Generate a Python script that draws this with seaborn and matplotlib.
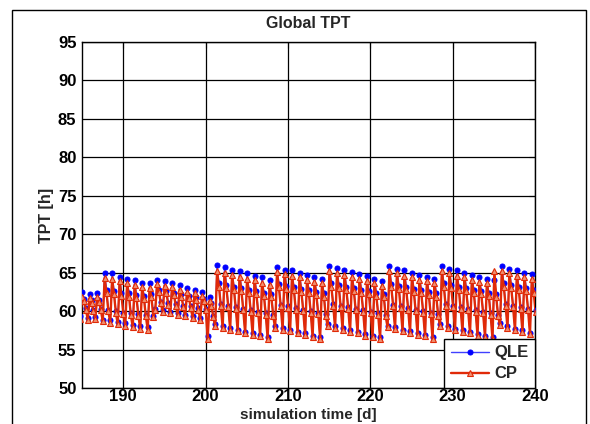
import numpy as np
import pandas as pd
import matplotlib
matplotlib.use("Agg")
import matplotlib.pyplot as plt
import seaborn as sns
from matplotlib.patches import Rectangle

# ---- data, one value per ~0.91-day cycle ----
qle_peak = [62.5, 62.2, 62.3,
            65.0, 64.9, 64.5, 64.2, 64.0, 63.7, 63.6,
            64.1, 63.9, 63.7, 63.4, 63.0, 62.8, 62.5,
            61.8,
            66.0, 65.8, 65.3, 65.2, 64.9, 64.6, 64.4, 64.0,
            65.8, 65.4, 65.3, 65.0, 64.7, 64.4, 64.2,
            65.9, 65.6, 65.3, 65.1, 64.8, 64.6, 64.2, 63.9,
            65.9, 65.5, 65.3, 65.0, 64.7, 64.5, 64.2,
            65.9, 65.5, 65.3, 65.0, 64.7, 64.4, 64.2, 64.0,
            65.9, 65.5, 65.3, 65.0, 64.8]
qle_trough = [59.3, 59.1, 59.2,
              58.9, 58.8, 58.6, 58.4, 58.2, 58.0, 57.9,
              60.3, 60.1, 59.9, 59.7, 59.5, 59.3, 59.1,
              56.7,
              58.3, 58.0, 57.8, 57.6, 57.3, 57.1, 56.9, 56.6,
              58.0, 57.8, 57.6, 57.3, 57.1, 56.8, 56.6,
              58.3, 58.0, 57.8, 57.5, 57.3, 57.0, 56.8, 56.6,
              58.1, 57.9, 57.6, 57.4, 57.1, 56.9, 56.6,
              58.3, 58.0, 57.7, 57.5, 57.3, 57.0, 56.8, 56.6,
              58.4, 58.0, 57.7, 57.5, 57.2]
qle_mid_low = [60.4, 60.2, 60.3,
               60.1, 60.0, 59.8, 59.7, 59.6, 59.5, 59.4,
               61.2, 61.0, 60.9, 60.7, 60.6, 60.4, 60.3,
               59.4,
               60.9, 60.7, 60.5, 60.3, 60.1, 59.9, 59.7, 59.5,
               60.8, 60.6, 60.4, 60.2, 60.0, 59.8, 59.6,
               60.9, 60.7, 60.5, 60.3, 60.1, 59.9, 59.7, 59.5,
               60.8, 60.6, 60.4, 60.2, 60.0, 59.8, 59.6,
               60.9, 60.7, 60.5, 60.3, 60.1, 59.9, 59.7, 59.5,
               60.9, 60.7, 60.5, 60.3, 60.1]
qle_mid_high = [61.6, 61.4, 61.5,
                62.8, 62.6, 62.4, 62.3, 62.1, 62.0, 62.2,
                62.8, 62.6, 62.4, 62.2, 62.0, 61.8, 61.6,
                61.0,
                63.6, 63.4, 63.2, 63.0, 62.8, 62.6, 62.4, 62.2,
                63.5, 63.3, 63.1, 62.9, 62.7, 62.5, 62.3,
                63.6, 63.4, 63.2, 63.0, 62.8, 62.6, 62.4, 62.2,
                63.5, 63.3, 63.1, 62.9, 62.7, 62.5, 62.3,
                63.6, 63.4, 63.2, 63.0, 62.8, 62.6, 62.4, 62.2,
                63.6, 63.4, 63.2, 63.0, 62.8]

cp_peak = [61.9, 61.7, 61.8,
           64.3, 64.2, 63.9, 63.6, 63.4, 63.1, 63.0,
           63.5, 63.3, 63.1, 62.8, 62.5, 62.3, 62.0,
           61.3,
           65.2, 65.0, 64.7, 64.5, 64.2, 64.0, 63.7, 63.4,
           65.1, 64.8, 64.6, 64.4, 64.1, 63.8, 63.6,
           65.2, 64.9, 64.7, 64.4, 64.2, 63.9, 63.6, 63.3,
           65.2, 64.9, 64.6, 64.4, 64.1, 63.9, 63.6,
           65.2, 64.9, 64.6, 64.4, 64.1, 63.8, 63.6, 65.2,
           65.2, 64.9, 64.6, 64.4, 64.2]
cp_trough = [59.0, 58.9, 59.0,
             58.7, 58.5, 58.3, 58.1, 57.9, 57.7, 57.6,
             60.1, 59.9, 59.7, 59.5, 59.3, 59.1, 58.9,
             56.4,
             58.1, 57.8, 57.6, 57.4, 57.1, 56.9, 56.7, 56.4,
             57.8, 57.6, 57.4, 57.1, 56.9, 56.6, 56.4,
             58.1, 57.8, 57.6, 57.3, 57.1, 56.8, 56.6, 56.4,
             57.9, 57.7, 57.4, 57.2, 56.9, 56.7, 56.4,
             58.1, 57.8, 57.5, 57.3, 57.1, 56.8, 56.6, 56.4,
             58.2, 57.8, 57.5, 57.3, 57.0]
cp_mid_low = [60.2, 60.0, 60.1,
              60.0, 59.8, 59.6, 59.5, 59.4, 59.3, 59.2,
              61.0, 60.8, 60.7, 60.5, 60.4, 60.2, 60.1,
              59.2,
              60.7, 60.5, 60.3, 60.1, 59.9, 59.7, 59.5, 59.3,
              60.6, 60.4, 60.2, 60.0, 59.8, 59.6, 59.4,
              60.7, 60.5, 60.3, 60.1, 59.9, 59.7, 59.5, 59.3,
              60.6, 60.4, 60.2, 60.0, 59.8, 59.6, 59.4,
              60.7, 60.5, 60.3, 60.1, 59.9, 59.7, 59.5, 59.3,
              60.7, 60.5, 60.3, 60.1, 59.9]
cp_mid_high = [61.3, 61.1, 61.2,
               62.4, 62.2, 62.0, 61.9, 61.7, 61.6, 61.8,
               62.5, 62.3, 62.1, 61.9, 61.7, 61.5, 61.3,
               60.7,
               63.2, 63.0, 62.8, 62.6, 62.4, 62.2, 62.0, 61.8,
               63.1, 62.9, 62.7, 62.5, 62.3, 62.1, 61.9,
               63.2, 63.0, 62.8, 62.6, 62.4, 62.2, 62.0, 61.8,
               63.1, 62.9, 62.7, 62.5, 62.3, 62.1, 61.9,
               63.2, 63.0, 62.8, 62.6, 62.4, 62.2, 62.0, 61.8,
               63.2, 63.0, 62.8, 62.6, 62.4]

t_start = 184.79        # first sample time [d]
t_step = 0.2275         # sample interval [d]
x_ticks = [190, 200, 210, 220, 230, 240]
y_ticks = [50, 55, 60, 65, 70, 75, 80, 85, 90, 95]

# ---- build series ----
def series(trough, peak, mid_high, mid_low):
    return np.column_stack([trough, peak, mid_high, mid_low]).ravel()

qle = series(qle_trough, qle_peak, qle_mid_high, qle_mid_low)
cp = series(cp_trough, cp_peak, cp_mid_high, cp_mid_low)
t = t_start + t_step * np.arange(len(qle))
df = pd.DataFrame({"t": t, "QLE": qle, "CP": cp})

sns.set_theme(style="white")
plt.rcParams["font.family"] = ["Liberation Sans", "DejaVu Sans"]
plt.rcParams["font.weight"] = "bold"

fig = plt.figure(figsize=(5.9, 4.24), dpi=100)
fig.patch.set_facecolor("white")
# axes: left 82px, right 535px, top 42px, bottom 388px
ax = fig.add_axes([82 / 590, 1 - 388 / 424, (535 - 82) / 590, (388 - 42) / 424])

sns.lineplot(data=df, x="t", y="QLE", ax=ax, sort=False, estimator=None,
             color="#4040ff", linewidth=1.0, marker="o", markersize=3.6,
             markeredgecolor="#0000ff", markerfacecolor="#0000ff",
             label="QLE", zorder=3)
sns.lineplot(data=df, x="t", y="CP", ax=ax, sort=False, estimator=None,
             color="#e02a08", linewidth=1.7, marker="^", markersize=4.8,
             markeredgecolor="#e02a08", markerfacecolor="#f09070",
             markeredgewidth=0.8, label="CP", zorder=4)

ax.set_xlim(185, 240)
ax.set_ylim(50, 95)
ax.set_xticks(x_ticks)
ax.set_yticks(y_ticks)
ax.grid(True, color="black", linewidth=0.9, linestyle="-")
ax.set_axisbelow(True)
for s in ax.spines.values():
    s.set_color("black")
    s.set_linewidth(1.0)
ax.tick_params(axis="both", direction="in", length=4, width=0.8,
               top=True, right=True, labelsize=12, pad=4, colors="black")
ax.tick_params(axis="x", pad=1.0)
for lab in ax.get_xticklabels() + ax.get_yticklabels():
    lab.set_fontweight("bold")
ax.set_xlabel("")
ax.set_ylabel("")

fig.text(0.523, 1 - 23 / 424, "Global TPT", ha="center", va="center",
         fontsize=11.5, fontweight="bold")
fig.text(0.523, 1.5 / 424, "simulation time [d]", ha="center",
         va="bottom", fontsize=11, fontweight="bold")
fig.text(0.078, 1 - 215 / 424, "TPT [h]", ha="center", va="center",
         rotation=90, fontsize=11.5, fontweight="bold")

leg = ax.legend(loc="lower right", borderaxespad=0.0, fancybox=False,
                frameon=True, framealpha=1, edgecolor="black",
                prop={"weight": "bold", "size": 12}, handlelength=2.3,
                handletextpad=0.3, labelspacing=0.35, borderpad=0.4)
leg.get_frame().set_linewidth(1.0)

fig.patches.append(Rectangle((12 / 590, -0.1), (586 - 12) / 590,
                             1.1 - 10 / 424, transform=fig.transFigure,
                             fill=False, edgecolor="black", linewidth=1.0))

fig.savefig("out.png", dpi=100)
